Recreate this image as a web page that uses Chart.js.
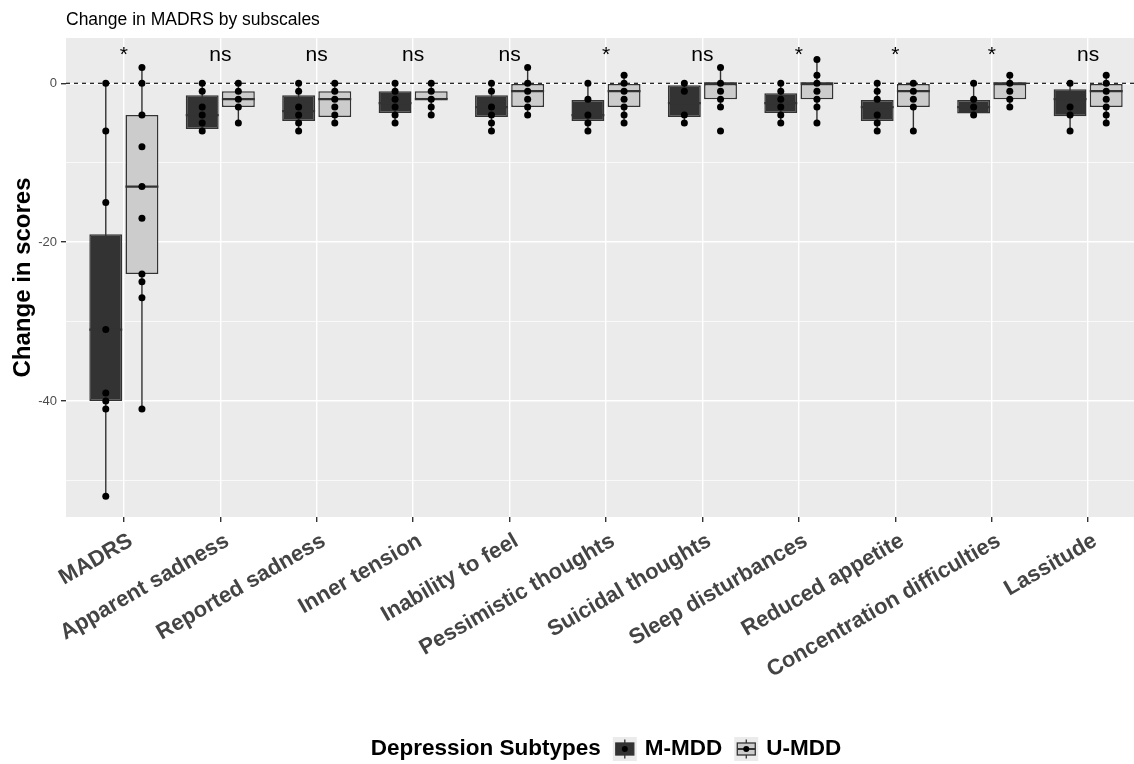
<!DOCTYPE html>
<html><head><meta charset="utf-8">
<script src="https://cdn.jsdelivr.net/npm/chart.js@4.4.1/dist/chart.umd.min.js"></script>
<style>html,body{margin:0;padding:0;background:#fff;overflow:hidden;} #wrap{width:1160px;height:764px;}</style>
</head><body><div id="wrap"><canvas id="c" width="1160" height="764" style="width:1160px;height:764px"></canvas></div>
<script>
const chartTitle = 'Change in MADRS by subscales';
const yAxisTitle = 'Change in scores';
const legendTitle = 'Depression Subtypes';
const seriesNames = ['M-MDD', 'U-MDD'];
const categories = ['MADRS','Apparent sadness','Reported sadness','Inner tension','Inability to feel','Pessimistic thoughts','Suicidal thoughts','Sleep disturbances','Reduced appetite','Concentration difficulties','Lassitude'];
const sigLabels = ['*','ns','ns','ns','ns','*','ns','*','*','*','ns'];

// M-MDD box statistics
const mWhiskLo = [-52, -6, -6, -5, -6, -6, -5, -5, -6, -4, -6];
const mQ1      = [-40, -5.75, -4.75, -3.75, -4.25, -4.75, -4.25, -3.75, -4.75, -3.8, -4.15];
const mMedian  = [-31, -4, -3.5, -2.5, -3, -4, -2.5, -2.5, -3, -3, -2];
const mQ3      = [-19, -1.5, -1.5, -1, -1.5, -2.1, -0.25, -1.25, -2.1, -2.1, -0.75];
const mWhiskHi = [0, 0, 0, 0, 0, 0, 0, 0, 0, 0, 0];
const mPoints = [
  [0,-6,-15,-31,-39,-40,-41,-52],
  [0,-1,-3,-4,-5,-6],
  [0,-1,-3,-4,-5,-6],
  [0,-1,-2,-3,-4,-5],
  [0,-1,-3,-4,-5,-6],
  [0,-2,-4,-5,-6],
  [0,-1,-4,-5],
  [0,-1,-2,-3,-4,-5],
  [0,-1,-2,-4,-5,-6],
  [0,-2,-3,-4],
  [0,-3,-4,-6]
];

// U-MDD box statistics
const uWhiskLo = [-41, -5, -5, -4, -4, -5, -3, -5, -6, -3, -5];
const uQ1      = [-24, -3, -4.25, -2, -3, -3, -2, -2, -3, -2, -3];
const uMedian  = [-13, -2, -2, -2, -1, -1, 0, 0, -1, 0, -1];
const uQ3      = [-4, -1, -1, -1, 0, 0, 0, 0, 0, 0, 0];
const uWhiskHi = [2, 0, 0, 0, 2, 1, 2, 3, 0, 1, 1];
const uPoints = [
  [2,0,-4,-8,-13,-17,-24,-25,-27,-41],
  [0,-1,-2,-3,-5],
  [0,-1,-2,-3,-4,-5],
  [0,-1,-2,-3,-4],
  [2,0,-1,-2,-3,-4],
  [1,0,-1,-2,-3,-4,-5],
  [2,0,-1,-2,-3,-6],
  [3,1,0,-1,-2,-3,-5],
  [0,-1,-2,-3,-6],
  [1,0,-1,-2,-3],
  [1,0,-1,-2,-3,-4,-5]
];

const yMin = -54.6, yMax = 5.7;
const sigY = 2.75;
const refLineY = 0;

const FONT = "'Liberation Sans', Arial, sans-serif";
Chart.defaults.font.family = FONT;

const catPct = 0.75, barPct = 0.91;
const dodge = catPct / 4;
const darkFill = '#333333', lightFill = '#cccccc', edge = '#333333';

const boxStats = [
  {lo: mWhiskLo, q1: mQ1, med: mMedian, q3: mQ3, hi: mWhiskHi},
  {lo: uWhiskLo, q1: uQ1, med: uMedian, q3: uQ3, hi: uWhiskHi}
];

function boxData(q1, q3) { return categories.map((c, i) => ({x: i, y: [q1[i], q3[i]]})); }
function pointData(pts, off) {
  const out = [];
  pts.forEach((arr, i) => arr.forEach(v => out.push({x: i + off, y: v})));
  return out;
}

const panelPlugin = {
  id: 'panel',
  beforeDraw(chart) {
    const {ctx, chartArea: a} = chart;
    ctx.save();
    ctx.fillStyle = '#ebebeb';
    ctx.fillRect(a.left, a.top, a.right - a.left, a.bottom - a.top);
    ctx.restore();
  },
  beforeDatasetsDraw(chart) {
    const {ctx, chartArea: a, scales: {y}} = chart;
    ctx.save();
    const py = y.getPixelForValue(refLineY);
    ctx.strokeStyle = '#000';
    ctx.lineWidth = 1.1;
    ctx.setLineDash([4, 4]);
    ctx.beginPath(); ctx.moveTo(a.left, py); ctx.lineTo(a.right, py); ctx.stroke();
    ctx.setLineDash([]);
    ctx.strokeStyle = edge;
    ctx.lineWidth = 1.4;
    [0, 1].forEach(d => {
      const meta = chart.getDatasetMeta(d);
      const s = boxStats[d];
      meta.data.forEach((bar, i) => {
        ctx.beginPath();
        ctx.moveTo(bar.x, y.getPixelForValue(s.lo[i]));
        ctx.lineTo(bar.x, y.getPixelForValue(s.hi[i]));
        ctx.stroke();
      });
    });
    ctx.restore();
  },
  afterDatasetDraw(chart, args) {
    if (args.index > 1) return;
    const {ctx, scales: {y}} = chart;
    const s = boxStats[args.index];
    ctx.save();
    ctx.strokeStyle = edge;
    ctx.lineWidth = 2.2;
    args.meta.data.forEach((bar, i) => {
      const py = y.getPixelForValue(s.med[i]);
      ctx.beginPath();
      ctx.moveTo(bar.x - bar.width / 2, py);
      ctx.lineTo(bar.x + bar.width / 2, py);
      ctx.stroke();
    });
    ctx.restore();
  },
  afterDatasetsDraw(chart) {
    const {ctx, scales: {x, y}} = chart;
    ctx.save();
    ctx.fillStyle = '#000';
    ctx.font = '21px ' + FONT;
    ctx.textAlign = 'center';
    ctx.textBaseline = 'alphabetic';
    sigLabels.forEach((t, i) => ctx.fillText(t, x.getPixelForValue(i), y.getPixelForValue(sigY)));
    ctx.restore();
  },
  afterDraw(chart) {
    const {ctx, chartArea: a} = chart;
    ctx.save();
    ctx.font = 'bold 22.5px ' + FONT;
    ctx.textBaseline = 'middle';
    ctx.textAlign = 'left';
    const key = 24, gapText = 12, gapKey = 8;
    let total = ctx.measureText(legendTitle).width;
    seriesNames.forEach(t => { total += gapText + key + gapKey + ctx.measureText(t).width; });
    let x = (a.left + a.right) / 2 - total / 2;
    const cy = chart.height - 15;
    ctx.fillStyle = '#000';
    ctx.fillText(legendTitle, x, cy);
    x += ctx.measureText(legendTitle).width + gapText;
    const fills = [darkFill, lightFill];
    seriesNames.forEach((t, k) => {
      const top = cy - key / 2;
      ctx.fillStyle = '#ebebeb';
      ctx.fillRect(x, top, key, key);
      ctx.strokeStyle = edge;
      ctx.lineWidth = 1.3;
      ctx.beginPath(); ctx.moveTo(x + key / 2, top + key * 0.1); ctx.lineTo(x + key / 2, top + key * 0.9); ctx.stroke();
      ctx.fillStyle = fills[k];
      ctx.fillRect(x + key * 0.125, top + key * 0.25, key * 0.75, key * 0.5);
      ctx.strokeRect(x + key * 0.125, top + key * 0.25, key * 0.75, key * 0.5);
      ctx.lineWidth = 2;
      ctx.beginPath(); ctx.moveTo(x + key * 0.125, cy); ctx.lineTo(x + key * 0.875, cy); ctx.stroke();
      ctx.fillStyle = '#000';
      ctx.beginPath(); ctx.arc(x + key / 2, cy, 3, 0, Math.PI * 2); ctx.fill();
      x += key + gapKey;
      ctx.fillText(t, x, cy);
      x += ctx.measureText(t).width + gapText;
    });
    ctx.restore();
  }
};

new Chart(document.getElementById('c'), {
  type: 'bar',
  data: {
    datasets: [
      {label: seriesNames[0], data: boxData(mQ1, mQ3), backgroundColor: darkFill, borderColor: edge, borderWidth: 1.5, borderSkipped: false, categoryPercentage: catPct, barPercentage: barPct, order: 1},
      {label: seriesNames[1], data: boxData(uQ1, uQ3), backgroundColor: lightFill, borderColor: edge, borderWidth: 1.5, borderSkipped: false, categoryPercentage: catPct, barPercentage: barPct, order: 1},
      {type: 'scatter', label: seriesNames[0] + ' points', data: pointData(mPoints, -dodge), pointRadius: 3.5, pointBackgroundColor: '#000', pointBorderWidth: 0, order: 0},
      {type: 'scatter', label: seriesNames[1] + ' points', data: pointData(uPoints, dodge), pointRadius: 3.5, pointBackgroundColor: '#000', pointBorderWidth: 0, order: 0}
    ]
  },
  options: {
    responsive: false,
    animation: false,
    events: [],
    layout: {padding: {left: 0, top: 0, right: 14, bottom: 72}},
    plugins: {
      legend: {display: false},
      tooltip: {enabled: false},
      title: {display: true, text: chartTitle, align: 'start', fullSize: false, color: '#000', font: {size: 17.5, weight: 'normal'}, padding: {top: 10, bottom: 7}}
    },
    scales: {
      x: {
        type: 'linear', min: -0.6, max: 10.6, offset: false,
        border: {display: false},
        grid: {color: '#ffffff', lineWidth: 1.4, tickColor: '#333333', tickLength: 5, offset: false},
        ticks: {stepSize: 1, includeBounds: false, autoSkip: false, maxRotation: 30, minRotation: 30, padding: 6, labelOffset: 7,
          color: '#444444', font: {size: 22, weight: 'bold'},
          callback: v => (Number.isInteger(v) && categories[v] !== undefined) ? categories[v] : ''},
        afterFit: s => { s.height = 175; }
      },
      y: {
        min: yMin, max: yMax,
        border: {display: false},
        grid: {color: '#ffffff', lineWidth: c => (c.tick && c.tick.value % 20 === 0) ? 1.4 : 0.7,
               tickColor: c => (c.tick && c.tick.value % 20 === 0) ? '#333333' : 'rgba(0,0,0,0)', tickLength: 5},
        ticks: {stepSize: 10, includeBounds: false, padding: 4, color: '#4d4d4d', font: {size: 13},
          callback: v => (v % 20 === 0) ? String(v) : ''},
        title: {display: true, text: yAxisTitle, color: '#000', font: {size: 24, weight: 'bold'}, padding: {top: 9, bottom: 0}},
        afterFit: s => { s.width = 66; }
      }
    }
  },
  plugins: [panelPlugin]
});
</script>
</body></html>
